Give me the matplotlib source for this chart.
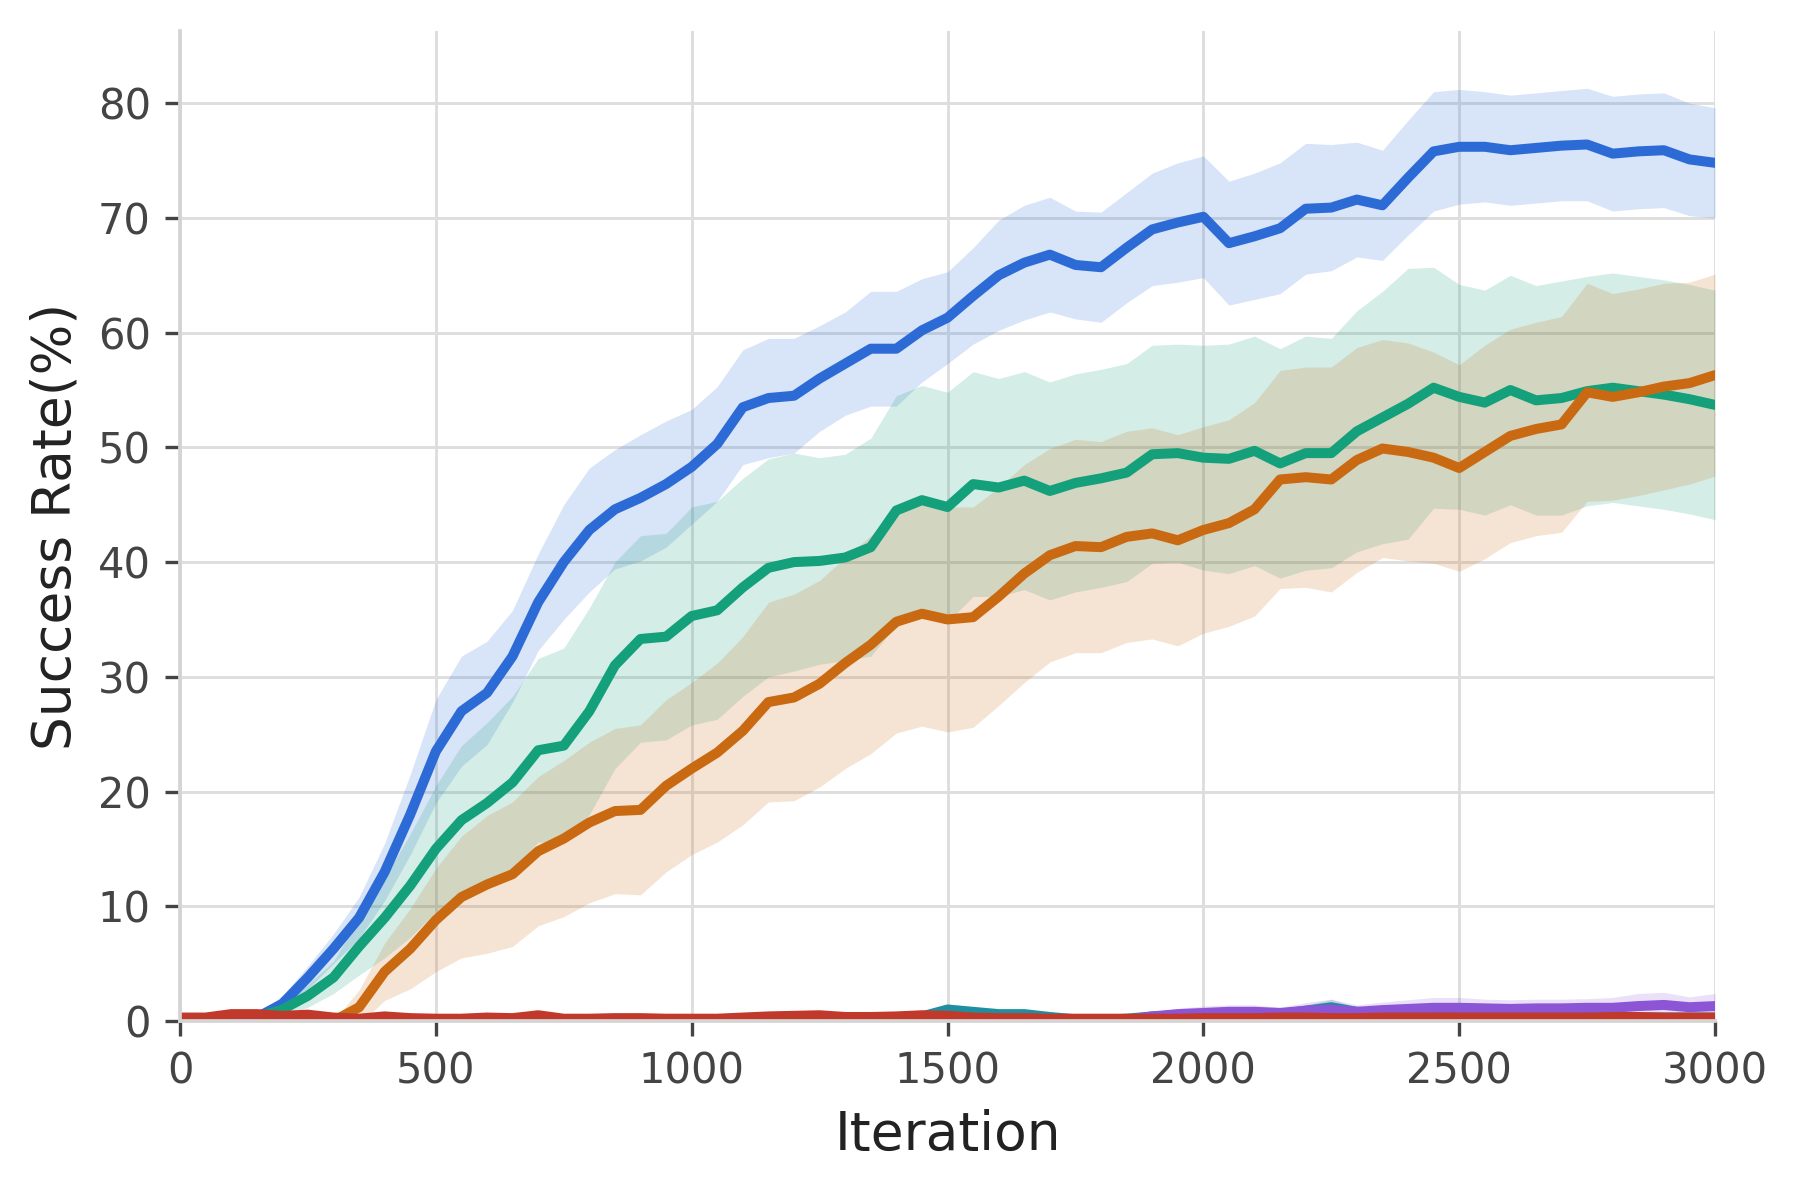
import matplotlib
matplotlib.use("Agg")
import matplotlib.pyplot as plt
import numpy as np

# iteration grid (every 50 iterations)
iters = np.arange(0, 3001, 50)

blue_mean = [0, 0, 0, 0.3, 1.5, 3.8, 6.3, 9.0, 13.0, 18.0,
             23.5, 27.0, 28.6, 31.8, 36.5, 40.0, 42.8, 44.6, 45.6, 46.8,
             48.3, 50.3, 53.5, 54.3, 54.5, 56.0, 57.3, 58.6, 58.6, 60.2,
             61.3, 63.2, 65.0, 66.1, 66.8, 65.9, 65.7, 67.4, 69.0, 69.6,
             70.1, 67.8, 68.4, 69.1, 70.8, 70.9, 71.6, 71.1, 73.5, 75.8,
             76.2, 76.2, 75.9, 76.1, 76.3, 76.4, 75.6, 75.8, 75.9, 75.1,
             74.8]
blue_sd = [0, 0, 0, 0.3, 0.7, 1.0, 1.3, 1.8, 2.5, 3.5,
           4.5, 4.8, 4.5, 4.0, 4.2, 5.0, 5.4, 5.2, 5.5, 5.5,
           5.0, 5.0, 5.0, 5.2, 5.0, 4.6, 4.5, 5.0, 5.0, 4.5,
           4.0, 4.2, 4.8, 5.0, 5.0, 4.7, 4.8, 4.8, 4.9, 5.2,
           5.3, 5.4, 5.5, 5.7, 5.7, 5.5, 5.0, 4.8, 5.0, 5.2,
           5.0, 4.8, 4.8, 4.8, 4.8, 4.9, 5.0, 5.0, 5.0, 4.9,
           4.8]

green_mean = [0, 0, 0, 0.3, 1.0, 2.2, 3.8, 6.5, 9.0, 11.8,
              15.0, 17.5, 19.0, 20.8, 23.6, 24.0, 27.0, 31.0, 33.3, 33.5,
              35.3, 35.8, 37.8, 39.5, 40.0, 40.1, 40.4, 41.3, 44.5, 45.4,
              44.8, 46.8, 46.5, 47.1, 46.2, 46.9, 47.3, 47.8, 49.4, 49.5,
              49.1, 49.0, 49.7, 48.6, 49.5, 49.5, 51.4, 52.6, 53.8, 55.2,
              54.4, 53.9, 55.0, 54.1, 54.3, 54.9, 55.2, 54.9, 54.6, 54.2,
              53.7]
green_sd = [0, 0, 0, 0.3, 0.6, 1.0, 1.4, 2.5, 3.5, 4.5,
            5.5, 6.5, 7.0, 7.5, 8.0, 8.5, 9.0, 9.0, 9.0, 9.0,
            9.5, 9.5, 9.5, 9.5, 9.5, 9.0, 9.0, 9.5, 10.0, 10.0,
            10.0, 9.8, 9.5, 9.5, 9.5, 9.5, 9.5, 9.5, 9.5, 9.5,
            9.8, 10.0, 10.0, 10.0, 10.2, 10.0, 10.5, 11.0, 11.8, 10.5,
            9.8, 9.8, 10.0, 10.0, 10.2, 10.0, 10.0, 10.0, 10.0, 10.0,
            10.0]

orange_mean = [0, 0, 0, 0, 0, 0, 0, 1.2, 4.3, 6.3,
               8.8, 10.8, 11.9, 12.8, 14.8, 15.9, 17.3, 18.3, 18.4, 20.5,
               22.0, 23.4, 25.3, 27.8, 28.2, 29.4, 31.2, 32.8, 34.8, 35.5,
               35.0, 35.2, 37.0, 39.0, 40.6, 41.4, 41.3, 42.2, 42.5, 41.9,
               42.8, 43.4, 44.6, 47.2, 47.4, 47.2, 48.9, 49.9, 49.6, 49.1,
               48.2, 49.6, 51.0, 51.6, 52.0, 54.8, 54.4, 54.8, 55.3, 55.6,
               56.3]
orange_sd = [0, 0, 0, 0, 0, 0, 0, 1.5, 2.5, 3.5,
             4.5, 5.3, 6.0, 6.3, 6.5, 6.8, 7.0, 7.2, 7.4, 7.5,
             7.5, 7.8, 8.2, 8.7, 9.0, 9.0, 9.2, 9.5, 9.7, 9.8,
             9.8, 9.6, 9.5, 9.5, 9.3, 9.3, 9.2, 9.2, 9.2, 9.2,
             9.0, 9.0, 9.3, 9.5, 9.6, 9.8, 9.8, 9.5, 9.5, 9.2,
             9.0, 9.3, 9.3, 9.3, 9.4, 9.5, 9.0, 9.0, 9.0, 8.8,
             8.8]

teal_mean = [0, 0, 0.1, 0.2, 0.1, 0, 0, 0, 0, 0,
             0, 0, 0, 0, 0, 0, 0, 0, 0, 0,
             0, 0, 0, 0, 0, 0, 0, 0, 0, 0.4,
             1.0, 0.8, 0.6, 0.6, 0.35, 0.15, 0.1, 0.2, 0.4, 0.5,
             0.5, 0.5, 0.5, 0.6, 0.9, 1.2, 0.8, 0.7, 0.8, 0.8,
             0.7, 0.6, 0.6, 0.5, 0.5, 0.4, 0.3, 0.3, 0.3, 0.3,
             0.3]
teal_sd = [0, 0, 0, 0, 0, 0, 0, 0, 0, 0,
           0, 0, 0, 0, 0, 0, 0, 0, 0, 0,
           0, 0, 0, 0, 0, 0, 0, 0, 0, 0.3,
           0.5, 0.4, 0.3, 0.3, 0.2, 0.1, 0.1, 0.1, 0.2, 0.2,
           0.2, 0.2, 0.2, 0.3, 0.5, 0.7, 0.4, 0.3, 0.3, 0.3,
           0.3, 0.2, 0.2, 0.2, 0.2, 0.2, 0.2, 0.2, 0.2, 0.2,
           0.2]

purple_mean = [0, 0, 0, 0, 0, 0, 0, 0, 0, 0,
               0, 0, 0, 0, 0, 0, 0, 0, 0, 0,
               0, 0, 0, 0, 0, 0, 0, 0, 0, 0,
               0, 0, 0, 0, 0, 0, 0, 0.1, 0.4, 0.6,
               0.7, 0.8, 0.8, 0.7, 0.9, 1.0, 0.8, 0.95, 1.05, 1.15,
               1.15, 1.1, 1.05, 1.1, 1.1, 1.15, 1.15, 1.3, 1.4, 1.2,
               1.3]
purple_sd = [0, 0, 0, 0, 0, 0, 0, 0, 0, 0,
             0, 0, 0, 0, 0, 0, 0, 0, 0, 0,
             0, 0, 0, 0, 0, 0, 0, 0, 0, 0,
             0, 0, 0, 0, 0, 0, 0, 0.1, 0.3, 0.5,
             0.6, 0.6, 0.6, 0.5, 0.7, 0.9, 0.6, 0.7, 0.8, 0.9,
             0.9, 0.8, 0.8, 0.8, 0.8, 0.8, 0.9, 1.1, 1.1, 0.9,
             1.1]

red_mean = [0.3, 0.3, 0.6, 0.6, 0.45, 0.55, 0.3, 0.2, 0.4, 0.25,
            0.2, 0.2, 0.3, 0.25, 0.5, 0.2, 0.2, 0.25, 0.25, 0.2,
            0.2, 0.2, 0.3, 0.4, 0.45, 0.5, 0.35, 0.35, 0.4, 0.5,
            0.45, 0.3, 0.25, 0.25, 0.2, 0.2, 0.2, 0.2, 0.2, 0.2,
            0.25, 0.25, 0.25, 0.3, 0.3, 0.25, 0.25, 0.3, 0.3, 0.3,
            0.3, 0.3, 0.3, 0.3, 0.3, 0.3, 0.35, 0.35, 0.3, 0.3,
            0.3]

series = [
    (blue_mean, blue_sd, "#2c6bd6"),
    (green_mean, green_sd, "#14a07a"),
    (orange_mean, orange_sd, "#c96a12"),
    (teal_mean, teal_sd, "#1f8fa0"),
    (purple_mean, purple_sd, "#8b55d6"),
    (red_mean, None, "#c0392b"),
]

fig = plt.figure(figsize=(6, 1189 / 300), dpi=300)
ax = fig.add_axes([0.100, 0.1413, 0.8528, 0.8327])

# shaded bands first, then the mean curves on top
for mean, sd, color in series:
    if sd is None:
        continue
    m = np.array(mean)
    s = np.array(sd)
    ax.fill_between(iters, m - s, m + s, color=color, alpha=0.18, linewidth=0)

for mean, sd, color in series:
    ax.plot(iters, mean, color=color, linewidth=2.4, solid_capstyle="round",
            solid_joinstyle="round")

ax.set_xlim(0, 3000)
ax.set_ylim(0, 86.3)
ax.set_xticks([0, 500, 1000, 1500, 2000, 2500, 3000])
ax.set_yticks([0, 10, 20, 30, 40, 50, 60, 70, 80])

ax.grid(True, color="#dedede", linewidth=0.7)
ax.set_axisbelow(True)
for side in ["top", "right"]:
    ax.spines[side].set_visible(False)
for side in ["left", "bottom"]:
    ax.spines[side].set_color("#d4d4d4")
    ax.spines[side].set_linewidth(0.9)

ax.tick_params(axis="both", direction="out", length=3.5, width=0.8,
               color="#444444", labelcolor="#444444", labelsize=10, pad=3.5)

ax.set_xlabel("Iteration", fontsize=12.8, color="#222222")
ax.set_ylabel("Success Rate(%)", fontsize=12.8, color="#222222")

fig.savefig("out.png", dpi=300)
